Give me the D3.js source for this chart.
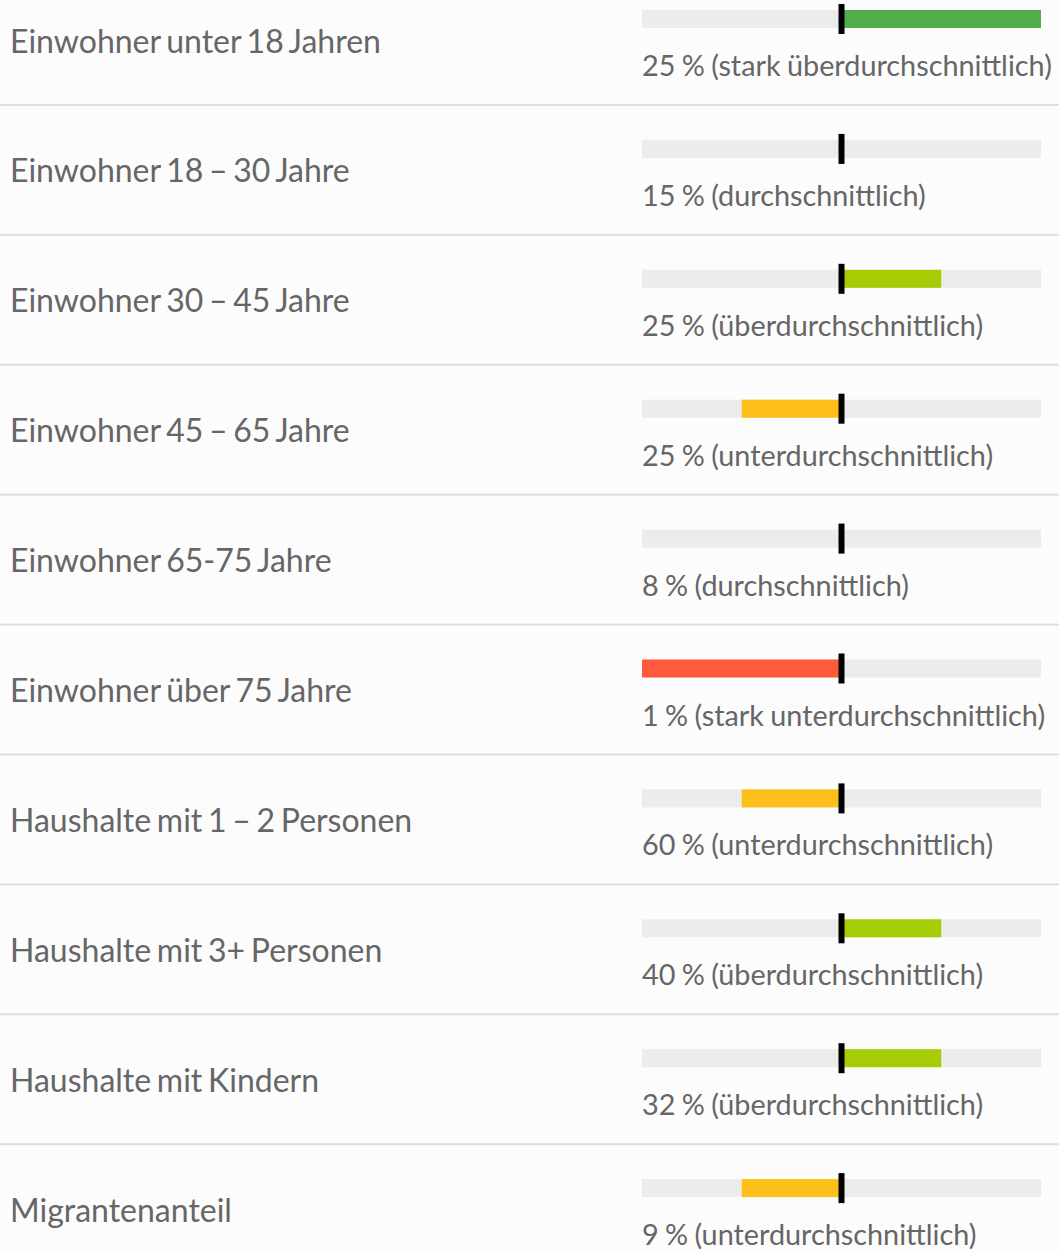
<!DOCTYPE html>
<html>
<head>
<meta charset="utf-8">
<script src="https://cdn.jsdelivr.net/npm/d3@7"></script>
<style>
  body { margin: 0; background: #fcfcfc; overflow: hidden; }
  svg { display: block; font-family: Lato, "Noto Sans", sans-serif; }
</style>
</head>
<body>
<div id="chart"></div>
<script>
// =========== Data
var labels = [
  "Einwohner unter 18 Jahren",
  "Einwohner 18 – 30 Jahre",
  "Einwohner 30 – 45 Jahre",
  "Einwohner 45 – 65 Jahre",
  "Einwohner 65-75 Jahre",
  "Einwohner über 75 Jahre",
  "Haushalte mit 1 – 2 Personen",
  "Haushalte mit 3+ Personen",
  "Haushalte mit Kindern",
  "Migrantenanteil"
];
var shares = [25, 15, 25, 25, 8, 1, 60, 40, 32, 9];
var ratings = [
  "stark überdurchschnittlich",
  "durchschnittlich",
  "überdurchschnittlich",
  "unterdurchschnittlich",
  "durchschnittlich",
  "stark unterdurchschnittlich",
  "unterdurchschnittlich",
  "überdurchschnittlich",
  "überdurchschnittlich",
  "unterdurchschnittlich"
];
// rating -> deviation score
var ratingNames = ["stark unterdurchschnittlich", "unterdurchschnittlich", "durchschnittlich", "überdurchschnittlich", "stark überdurchschnittlich"];
var ratingScores = [-2, -1, 0, 1, 2];
var ratingColors = ["#ff5a3c", "#fdbf1a", "#ececec", "#a6cc05", "#52ae4a"];

var rows = labels.map(function(l, i) {
  return { label: l, share: shares[i], rating: ratings[i] };
});

// =========== Size
var svgWidth = 1059;
var svgHeight = 1250;
var rowH = 129.9;
var top0 = -25;

var svg = d3.select("#chart").append("svg")
  .attr("width", svgWidth)
  .attr("height", svgHeight);

// =========== Scales
var yScale = d3.scaleBand()
  .domain(d3.range(rows.length))
  .range([top0, top0 + rowH * rows.length])
  .padding(0);

var xScale = d3.scaleLinear()
  .domain([-2, 2])
  .range([642, 1041]);

var scoreOf = d3.scaleOrdinal().domain(ratingNames).range(ratingScores);
var colorOf = d3.scaleOrdinal().domain(ratingNames).range(ratingColors);

var rowGroup = svg.selectAll("g.row")
  .data(rows)
  .enter()
  .append("g")
  .attr("class", "row")
  .attr("transform", (d, i) => `translate(0, ${yScale(i)})`);

// separator lines
rowGroup.filter((d, i) => i < rows.length - 1)
  .append("rect")
  .attr("x", 0)
  .attr("y", 129)
  .attr("width", svgWidth)
  .attr("height", 2)
  .attr("fill", "#dedede");

// labels
rowGroup.append("text")
  .attr("x", 10)
  .attr("y", 77.5)
  .attr("font-size", "32px")
  .attr("word-spacing", "-2.5px")
  .attr("fill", "#666")
  .text(d => d.label);

// background track
rowGroup.append("rect")
  .attr("x", xScale(-2))
  .attr("y", 35)
  .attr("width", xScale(2) - xScale(-2))
  .attr("height", 18)
  .attr("fill", "#ececec");

// deviation bar
rowGroup.filter(d => scoreOf(d.rating) !== 0)
  .append("rect")
  .attr("x", d => xScale(Math.min(0, scoreOf(d.rating))))
  .attr("y", 35)
  .attr("width", d => Math.abs(xScale(scoreOf(d.rating)) - xScale(0)))
  .attr("height", 18)
  .attr("fill", d => colorOf(d.rating));

// average marker
rowGroup.append("rect")
  .attr("x", xScale(0) - 3)
  .attr("y", 29)
  .attr("width", 6)
  .attr("height", 30)
  .attr("fill", "#000");

// value text
rowGroup.append("text")
  .attr("x", xScale(-2))
  .attr("y", 101)
  .attr("font-size", "28.8px")
  .attr("word-spacing", "-1px")
  .attr("fill", "#666")
  .text(d => `${d.share} % (${d.rating})`);
</script>
</body>
</html>
